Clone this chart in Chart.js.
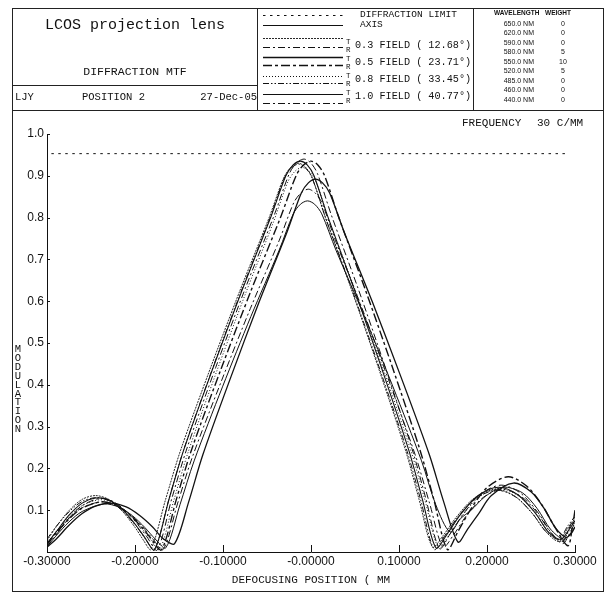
<!DOCTYPE html>
<html><head><meta charset="utf-8">
<script src="https://cdn.jsdelivr.net/npm/chart.js@4.4.1/dist/chart.umd.min.js"></script>
<style>
html,body{margin:0;padding:0;background:#fff;}
body{width:610px;height:594px;position:relative;overflow:hidden;font-family:"Liberation Mono",monospace;color:#111;}
.t{position:absolute;white-space:nowrap;}
.box{position:absolute;border:1px solid #222;box-sizing:border-box;}
.hl{position:absolute;height:0;border-top:1px solid #222;}
canvas{position:absolute;left:0;top:0;}
.wl{position:absolute;white-space:nowrap;font-family:"Liberation Sans",sans-serif;font-size:7px;line-height:8px;}
</style></head><body>
<canvas id="c" width="610" height="594"></canvas>

<!-- frames -->
<div class="box" style="left:12px;top:8px;width:246px;height:103px"></div>
<div class="box" style="left:257px;top:8px;width:217px;height:103px"></div>
<div class="box" style="left:473px;top:8px;width:131px;height:103px"></div>
<div class="box" style="left:12px;top:110px;width:592px;height:482px"></div>
<div class="hl" style="left:12px;top:85px;width:246px"></div>

<!-- left header -->
<div class="t" style="left:12px;top:17px;width:246px;text-align:center;font-size:15px;line-height:18px">LCOS projection lens</div>
<div class="t" style="left:12px;top:65px;width:246px;text-align:center;font-size:11.5px;line-height:14px">DIFFRACTION MTF</div>
<div class="t" style="left:15px;top:91px;font-size:10.5px;line-height:12px">LJY</div>
<div class="t" style="left:82px;top:91px;font-size:10.5px;line-height:12px">POSITION 2</div>
<div class="t" style="left:196px;top:91px;width:61px;text-align:right;font-size:10.5px;line-height:12px">27-Dec-05</div>

<!-- legend -->
<svg style="position:absolute;left:0;top:0" width="610" height="120">
  <g stroke="#111" fill="none">
    <line x1="263" y1="15.5" x2="343" y2="15.5" stroke-width="1" stroke-dasharray="2.5 4.5"/>
    <line x1="263" y1="25.5" x2="343" y2="25.5" stroke-width="1.1"/>
    <line x1="263" y1="38.5" x2="343" y2="38.5" stroke-width="0.9" stroke-dasharray="2 1"/>
    <line x1="263" y1="47.5" x2="343" y2="47.5" stroke-width="1" stroke-dasharray="7 3 2 3"/>
    <line x1="263" y1="57.5" x2="343" y2="57.5" stroke-width="1.3"/>
    <line x1="263" y1="65.5" x2="343" y2="65.5" stroke-width="1.4" stroke-dasharray="9 3 3 3"/>
    <line x1="263" y1="76.5" x2="343" y2="76.5" stroke-width="1" stroke-dasharray="1 2"/>
    <line x1="263" y1="83.5" x2="343" y2="83.5" stroke-width="1" stroke-dasharray="6 2 1.5 2 1.5 2"/>
    <line x1="263" y1="94.5" x2="343" y2="94.5" stroke-width="1"/>
    <line x1="263" y1="103.5" x2="343" y2="103.5" stroke-width="1" stroke-dasharray="7 3 2 3"/>
  </g>
</svg>
<div class="t" style="left:360px;top:9px;font-size:9.5px;line-height:12px">DIFFRACTION LIMIT</div>
<div class="t" style="left:360px;top:19px;font-size:9.5px;line-height:12px">AXIS</div>
<div class="t" style="left:346px;top:38px;font-size:7.5px;line-height:8px">T</div>
<div class="t" style="left:346px;top:46px;font-size:7.5px;line-height:8px">R</div>
<div class="t" style="left:355px;top:40px;font-size:10.2px;line-height:12px">0.3 FIELD ( 12.68°)</div>
<div class="t" style="left:346px;top:55px;font-size:7.5px;line-height:8px">T</div>
<div class="t" style="left:346px;top:63px;font-size:7.5px;line-height:8px">R</div>
<div class="t" style="left:355px;top:57px;font-size:10.2px;line-height:12px">0.5 FIELD ( 23.71°)</div>
<div class="t" style="left:346px;top:72px;font-size:7.5px;line-height:8px">T</div>
<div class="t" style="left:346px;top:80px;font-size:7.5px;line-height:8px">R</div>
<div class="t" style="left:355px;top:74px;font-size:10.2px;line-height:12px">0.8 FIELD ( 33.45°)</div>
<div class="t" style="left:346px;top:89px;font-size:7.5px;line-height:8px">T</div>
<div class="t" style="left:346px;top:97px;font-size:7.5px;line-height:8px">R</div>
<div class="t" style="left:355px;top:91px;font-size:10.2px;line-height:12px">1.0 FIELD ( 40.77°)</div>

<!-- wavelength table -->
<div id="wtab"></div>

<!-- plot texts -->
<div class="t" style="left:462px;top:116px;font-size:11px;line-height:14px">FREQUENCY</div>
<div class="t" style="left:537px;top:116px;font-size:11px;line-height:14px">30 C/MM</div>
<div class="t" style="left:12px;top:573px;width:598px;text-align:center;font-size:11px;line-height:14px">DEFOCUSING POSITION ( MM</div>
<div id="ytitle" class="t" style="left:12px;top:345px;width:12px;text-align:center;font-size:10.5px;line-height:8.9px;white-space:normal"></div>

<script>
// ---- header table data ----
const wavelengths = ["650.0 NM","620.0 NM","590.0 NM","580.0 NM","550.0 NM","520.0 NM","485.0 NM","460.0 NM","440.0 NM"];
const weights = ["0","0","0","5","10","5","0","0","0"];
const yTitle = "MODULATION";

// ---- axes ----
const xTickValues = [-0.3,-0.2,-0.1,0,0.1,0.2,0.3];
const xTickLabels = ["-0.30000","-0.20000","-0.10000","-0.00000","0.10000","0.20000","0.30000"];
const yTickValues = [0.1,0.2,0.3,0.4,0.5,0.6,0.7,0.8,0.9,1.0];
const yTickLabels = ["0.1","0.2","0.3","0.4","0.5","0.6","0.7","0.8","0.9","1.0"];

// ---- series ----
const diffX = [-0.295, 0.290];
const diffY = [0.953, 0.953];

const axisX = [-0.300,-0.290,-0.275,-0.260,-0.245,-0.230,-0.215,-0.200,-0.190,-0.178,-0.1614,-0.1448,-0.1116,-0.0784,-0.0452,-0.0286,-0.0203,-0.012,-0.0043,0.0034,0.0188,0.0496,0.0804,0.1112,0.1266,0.142,0.155,0.170,0.190,0.213,0.235,0.255,0.270,0.284,0.292,0.300];
const axisY = [0.020,0.047,0.088,0.117,0.129,0.125,0.103,0.067,0.038,0.005,0.126,0.243,0.439,0.626,0.804,0.900,0.926,0.935,0.926,0.900,0.804,0.626,0.439,0.243,0.126,0.010,0.044,0.090,0.135,0.155,0.137,0.093,0.047,0.030,0.050,0.075];

const f03tX = [-0.300,-0.290,-0.275,-0.260,-0.245,-0.230,-0.215,-0.200,-0.190,-0.182,-0.1652,-0.1484,-0.1148,-0.0812,-0.0476,-0.0308,-0.0224,-0.014,-0.0064,0.0012,0.0164,0.0468,0.0772,0.1076,0.1228,0.138,0.150,0.165,0.185,0.210,0.232,0.252,0.267,0.282,0.291,0.300];
const f03tY = [0.027,0.059,0.099,0.126,0.135,0.126,0.099,0.059,0.027,0.006,0.126,0.242,0.437,0.623,0.800,0.896,0.921,0.930,0.921,0.896,0.800,0.623,0.437,0.242,0.126,0.012,0.039,0.083,0.128,0.150,0.133,0.091,0.048,0.025,0.055,0.080];

const f03rX = [-0.300,-0.290,-0.275,-0.260,-0.240,-0.225,-0.210,-0.197,-0.187,-0.175,-0.1583,-0.1416,-0.1082,-0.0748,-0.0414,-0.0247,-0.0164,-0.008,-0.0003,0.0074,0.0228,0.0536,0.0844,0.1152,0.1306,0.146,0.158,0.173,0.193,0.216,0.238,0.258,0.272,0.286,0.294,0.300];
const f03rY = [0.012,0.040,0.081,0.111,0.128,0.121,0.097,0.066,0.038,0.004,0.127,0.244,0.442,0.630,0.808,0.905,0.931,0.940,0.931,0.905,0.808,0.630,0.442,0.244,0.127,0.008,0.043,0.091,0.139,0.160,0.141,0.094,0.049,0.020,0.045,0.070];

const f05tX = [-0.300,-0.290,-0.275,-0.260,-0.245,-0.228,-0.210,-0.195,-0.180,-0.168,-0.155,-0.139,-0.123,-0.091,-0.059,-0.027,-0.011,-0.003,0.005,0.0131,0.0212,0.0374,0.0698,0.1022,0.1346,0.1508,0.167,0.178,0.190,0.205,0.230,0.250,0.265,0.278,0.290,0.296,0.300];
const f05tY = [0.012,0.030,0.064,0.092,0.110,0.117,0.108,0.088,0.060,0.032,0.020,0.120,0.232,0.419,0.598,0.767,0.859,0.883,0.892,0.883,0.859,0.767,0.598,0.419,0.232,0.120,0.024,0.055,0.090,0.135,0.165,0.144,0.104,0.057,0.035,0.045,0.060];

const f05rX = [-0.300,-0.290,-0.275,-0.260,-0.238,-0.222,-0.207,-0.193,-0.182,-0.170,-0.153,-0.136,-0.102,-0.068,-0.034,-0.017,-0.0085,0.000,0.0078,0.0155,0.031,0.062,0.093,0.124,0.1395,0.155,0.167,0.182,0.200,0.224,0.245,0.262,0.277,0.292,0.297,0.300];
const f05rY = [0.017,0.044,0.079,0.105,0.120,0.112,0.091,0.061,0.033,0.005,0.126,0.243,0.439,0.626,0.804,0.900,0.926,0.935,0.926,0.900,0.804,0.626,0.439,0.243,0.126,0.006,0.049,0.104,0.154,0.180,0.158,0.114,0.060,0.015,0.060,0.100];

const f08tX = [-0.300,-0.290,-0.275,-0.260,-0.240,-0.223,-0.208,-0.194,-0.183,-0.172,-0.1558,-0.1396,-0.1072,-0.0748,-0.0424,-0.0262,-0.0181,-0.010,-0.0023,0.0055,0.021,0.052,0.083,0.114,0.1295,0.145,0.157,0.172,0.192,0.214,0.236,0.255,0.270,0.284,0.292,0.300];
const f08tY = [0.020,0.048,0.085,0.111,0.125,0.116,0.093,0.062,0.032,0.006,0.124,0.239,0.432,0.616,0.791,0.886,0.911,0.920,0.911,0.886,0.791,0.616,0.432,0.239,0.124,0.010,0.041,0.087,0.133,0.152,0.134,0.093,0.048,0.025,0.045,0.070];

const f08rX = [-0.300,-0.290,-0.275,-0.260,-0.244,-0.228,-0.213,-0.199,-0.188,-0.178,-0.1616,-0.1452,-0.1124,-0.0796,-0.0468,-0.0304,-0.0222,-0.014,-0.0063,0.0014,0.0168,0.0476,0.0784,0.1092,0.1246,0.140,0.152,0.167,0.187,0.211,0.233,0.252,0.267,0.282,0.291,0.300];
const f08rY = [0.031,0.060,0.096,0.121,0.130,0.121,0.096,0.063,0.031,0.004,0.125,0.241,0.436,0.622,0.798,0.894,0.919,0.928,0.919,0.894,0.798,0.622,0.436,0.241,0.125,0.006,0.039,0.084,0.128,0.148,0.131,0.091,0.049,0.030,0.060,0.085];

const f10tX = [-0.300,-0.290,-0.275,-0.260,-0.235,-0.218,-0.203,-0.189,-0.177,-0.165,-0.1489,-0.1328,-0.1006,-0.0684,-0.0362,-0.0201,-0.012,-0.004,0.0041,0.0122,0.0284,0.0608,0.0932,0.1256,0.1418,0.158,0.170,0.182,0.198,0.218,0.240,0.257,0.272,0.287,0.294,0.300];
const f10tY = [0.013,0.038,0.072,0.097,0.115,0.107,0.087,0.059,0.031,0.010,0.113,0.218,0.395,0.563,0.722,0.809,0.832,0.840,0.832,0.809,0.722,0.563,0.395,0.218,0.113,0.048,0.080,0.100,0.133,0.155,0.142,0.104,0.055,0.030,0.042,0.060];

const f10rX = [-0.300,-0.290,-0.275,-0.260,-0.238,-0.221,-0.206,-0.192,-0.180,-0.168,-0.1515,-0.135,-0.102,-0.069,-0.036,-0.0195,-0.0113,-0.003,0.0047,0.0123,0.0276,0.0582,0.0888,0.1194,0.1347,0.150,0.162,0.177,0.196,0.218,0.240,0.258,0.272,0.286,0.293,0.300];
const f10rY = [0.021,0.047,0.081,0.106,0.120,0.111,0.090,0.062,0.032,0.006,0.117,0.226,0.408,0.582,0.746,0.836,0.859,0.868,0.859,0.836,0.746,0.582,0.408,0.226,0.117,0.012,0.041,0.088,0.131,0.150,0.131,0.091,0.048,0.025,0.055,0.090];

// ---- build header table ----
(function(){
  const w = document.getElementById('wtab');
  let h = '<div class="wl" style="left:494px;top:9px;font-size:6.5px;font-weight:bold">WAVELENGTH</div>'+
          '<div class="wl" style="left:545px;top:9px;font-size:6.5px;font-weight:bold">WEIGHT</div>';
  wavelengths.forEach((s,i)=>{
    const top = 20 + i*9.45;
    h += '<div class="wl" style="left:490px;width:44px;text-align:right;top:'+top+'px">'+s+'</div>';
    h += '<div class="wl" style="left:553px;width:20px;text-align:center;top:'+top+'px">'+weights[i]+'</div>';
  });
  w.innerHTML = h;
  document.getElementById('ytitle').innerHTML = yTitle.split('').join('<br>');
})();

function pts(xs, ys){ return xs.map((x,i)=>({x:x, y:ys[i]})); }
function ds(label, xs, ys, dash, width){
  return {label, data:pts(xs,ys), borderColor:'#111', borderWidth:width, borderDash:dash,
          pointRadius:0, tension:0.3, fill:false};
}

const datasets = [
  ds('DIFFRACTION LIMIT', diffX, diffY, [2.5,4.5], 1),
  ds('AXIS', axisX, axisY, [], 1.1),
  ds('0.3 T', f03tX, f03tY, [2,1], 0.9),
  ds('0.3 R', f03rX, f03rY, [7,3,2,3], 1),
  ds('0.5 T', f05tX, f05tY, [], 1.3),
  ds('0.5 R', f05rX, f05rY, [9,3,3,3], 1.4),
  ds('0.8 T', f08tX, f08tY, [1,2], 1),
  ds('0.8 R', f08rX, f08rY, [6,2,1.5,2,1.5,2], 1),
  ds('1.0 T', f10tX, f10tY, [], 1),
  ds('1.0 R', f10rX, f10rY, [7,3,2,3], 1)
];

const innerTicks = {
  id:'innerTicks',
  afterDatasetsDraw(chart){
    const {ctx, scales:{x, y}} = chart;
    ctx.save();
    ctx.strokeStyle = '#111'; ctx.lineWidth = 1; ctx.setLineDash([]);
    ctx.beginPath();
    xTickValues.forEach(v=>{
      const px = Math.round(x.getPixelForValue(v)) + 0.5;
      ctx.moveTo(px, y.bottom); ctx.lineTo(px, y.bottom - 7);
    });
    yTickValues.forEach(v=>{
      const py = Math.round(y.getPixelForValue(v)) + 0.5;
      ctx.moveTo(x.left, py); ctx.lineTo(x.left + 3, py);
    });
    ctx.stroke();
    ctx.restore();
  }
};

new Chart(document.getElementById('c'), {
  type:'line',
  data:{datasets},
  options:{
    responsive:false, animation:false, devicePixelRatio:1,
    layout:{padding:{left:17, top:134, right:35, bottom:22}},
    plugins:{legend:{display:false}, tooltip:{enabled:false}, title:{display:false}},
    scales:{
      x:{
        type:'linear', min:-0.3, max:0.3,
        grid:{display:false, drawTicks:false},
        border:{display:true, color:'#111', width:1},
        ticks:{font:{family:'Liberation Sans', size:12}, color:'#111', padding:2, maxRotation:0, autoSkip:false,
               callback:(v,i)=>xTickLabels[i]},
        afterBuildTicks:s=>{ s.ticks = xTickValues.map(v=>({value:v})); },
        afterFit:s=>{ s.height = 20; }
      },
      y:{
        type:'linear', min:0, max:1,
        grid:{display:false, drawTicks:false},
        border:{display:true, color:'#111', width:1},
        ticks:{font:{family:'Liberation Sans', size:12}, color:'#111', padding:3, autoSkip:false,
               callback:(v,i)=>yTickLabels[i]},
        afterBuildTicks:s=>{ s.ticks = yTickValues.map(v=>({value:v})); },
        afterFit:s=>{ s.width = 30; }
      }
    }
  },
  plugins:[innerTicks]
});
</script>
</body></html>
